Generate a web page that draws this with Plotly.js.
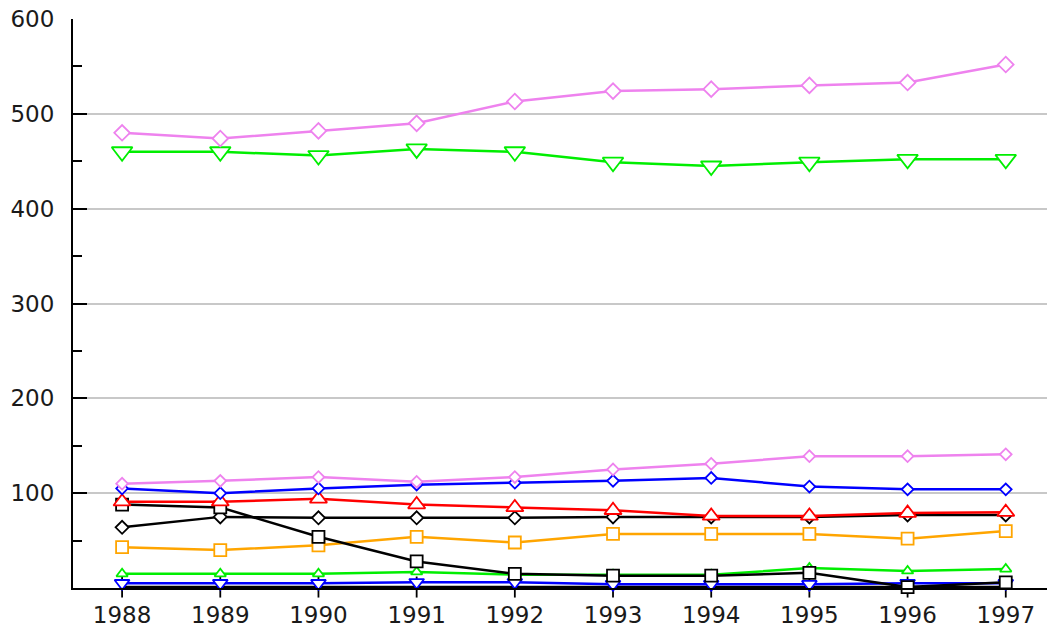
<!DOCTYPE html>
<html>
<head>
<meta charset="utf-8">
<script src="https://cdn.plot.ly/plotly-3.0.1.min.js"></script>
<style>
  html, body { margin: 0; padding: 0; background: #fff; }
  #chartBox { width: 1047px; height: 631px; }
</style>
</head>
<body>
<div id="chartBox"></div>
<script>
// years on the x axis
const years = [1988, 1989, 1990, 1991, 1992, 1993, 1994, 1995, 1996, 1997];

// series values
const violetTop   = [480, 474, 482, 490, 513, 524, 526, 530, 533, 552];
const greenTop    = [460, 460, 456, 463, 460, 449, 445, 449, 452, 452];
const violetLow   = [110, 113, 117, 112, 117, 125, 131, 139, 139, 141];
const blueDiamond = [105, 100, 105, 109, 111, 113, 116, 107, 104, 104];
const redTri      = [91, 91, 94, 88, 85, 82, 76, 76, 79, 80];
const blackDia    = [64, 75, 74, 74, 74, 75, 75, 75, 77, 77];
const blackSq     = [88, 85, 54, 28, 15, 13, 13, 16, 1, 6];
const orangeSq    = [43, 40, 45, 54, 48, 57, 57, 57, 52, 60];
const greenLow    = [15, 15, 15, 17, 14, 14, 14, 21, 18, 20];
const blueLow     = [5, 5, 5, 6, 6, 4, 4, 4, 5, 5];
const blackLow    = [1, 1, 1, 1, 1, 1, 1, 1, 1, 1];

const yTicks = [100, 200, 300, 400, 500, 600];

function series(y, color, symbol, size) {
    return {
        x: years,
        y: y,
        mode: "lines+markers",
        line: { color: color, width: 2.5 },
        marker: {
            symbol: symbol,
            size: size,
            color: "#ffffff",
            line: { color: color, width: 1.8 }
        },
        cliponaxis: false,
        hoverinfo: "skip"
    };
}

const data = [
    series(blackLow, "#000000", "line-ns", 15),
    series(blueLow, "#0000ff", "triangle-down", 13),
    series(greenLow, "#00ee00", "triangle-up", 10),
    series(orangeSq, "#ffa500", "square", 12),
    series(blackDia, "#000000", "diamond", 10),
    series(blackSq, "#000000", "square", 12),
    series(redTri, "#ff0000", "triangle-up", 15),
    series(blueDiamond, "#0000ff", "diamond", 9),
    series(violetLow, "#ee82ee", "diamond", 9),
    series(greenTop, "#00ee00", "triangle-down", 18),
    series(violetTop, "#ee82ee", "diamond", 12)
];

const layout = {
    width: 1047,
    height: 631,
    margin: { l: 73, r: 0, t: 19, b: 43 },
    paper_bgcolor: "#ffffff",
    plot_bgcolor: "#ffffff",
    showlegend: false,
    font: { family: "DejaVu Sans", size: 23, color: "#1a1a1a" },
    xaxis: {
        range: [1987.5, 1997.42],
        tickvals: years,
        ticktext: years.map(String),
        showgrid: false,
        zeroline: false,
        showline: true,
        linecolor: "#000000",
        linewidth: 2,
        ticks: "",
        ticklabelstandoff: 5
    },
    yaxis: {
        range: [0, 600],
        tickvals: yTicks,
        ticktext: yTicks.map(String),
        showgrid: true,
        gridcolor: "#c8c8c8",
        gridwidth: 2,
        zeroline: false,
        showline: true,
        linecolor: "#000000",
        linewidth: 2,
        ticks: "inside",
        ticklen: 14,
        tickwidth: 2,
        tickcolor: "#000000",
        ticklabelstandoff: 12,
        minor: { dtick: 100, tick0: 50, ticks: "inside", ticklen: 9, tickwidth: 2, tickcolor: "#000000", showgrid: false }
    }
};

Plotly.newPlot("chartBox", data, layout, { displayModeBar: false, staticPlot: true });
</script>
</body>
</html>
